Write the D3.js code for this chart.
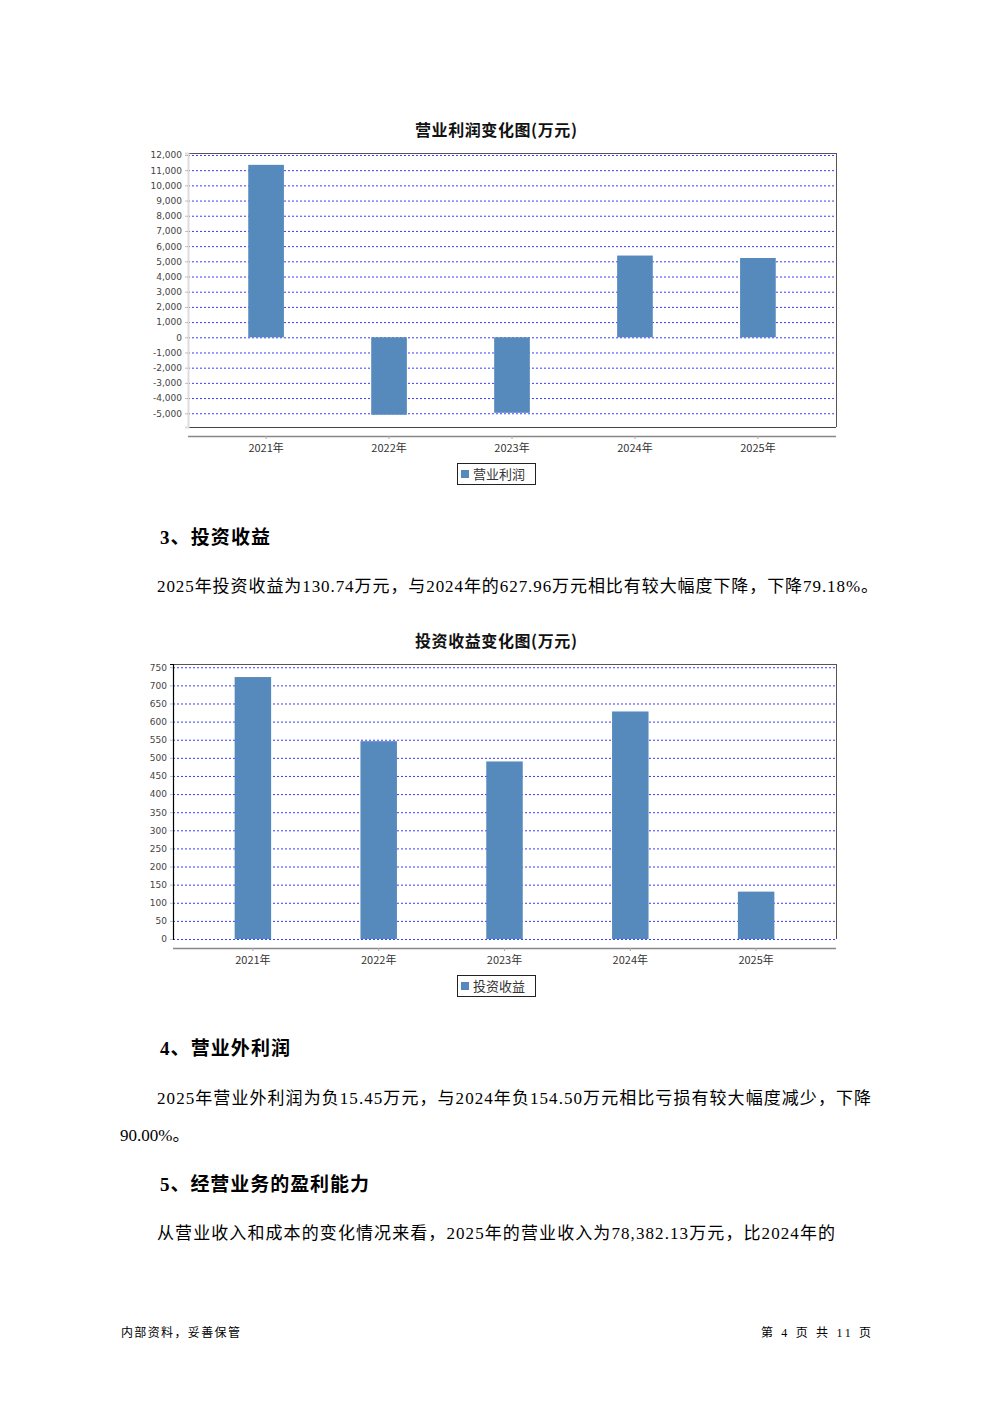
<!DOCTYPE html>
<html><head><meta charset="utf-8">
<script src="https://cdn.jsdelivr.net/npm/d3@7"></script>
<style>html,body{margin:0;padding:0;background:#fff;}svg{display:block;}</style>
</head><body>
<script>
const categories = ["2021年","2022年","2023年","2024年","2025年"];
const profitValues = [11350, -5100, -4970, 5380, 5220];
const investValues = [723, 546, 490, 627.96, 130.74];
const profitTicks = [12000,11000,10000,9000,8000,7000,6000,5000,4000,3000,2000,1000,0,-1000,-2000,-3000,-4000,-5000];
const investTicks = [750,700,650,600,550,500,450,400,350,300,250,200,150,100,50,0];
const chartTitles = ["营业利润变化图(万元)","投资收益变化图(万元)"];
const legendNames = ["营业利润","投资收益"];

const W = 992, H = 1403;
const svg = d3.select("body").append("svg").attr("width", W).attr("height", H);
const BAR = "#5689bc";
const CJK = "'Noto Sans CJK SC', sans-serif";
const BODY = "'Liberation Serif', 'Noto Sans CJK SC', serif";
const fmt = d3.formatLocale({decimal:".", thousands:",", grouping:[3], currency:["",""], minus:"-"}).format(",");

function chart(cfg){
  const g = svg.append("g");
  const {left,right,top,bottom,axisY,domain,ticks,values,title,titleY,legend,legendY,leftColor,showBottom} = cfg;
  const x = d3.scaleBand().domain(categories).range([left,right]).paddingInner(0.71).paddingOuter(0.49);
  const y = d3.scaleLinear().domain(domain).range([bottom,top]);
  // title
  g.append("text").attr("x",415).attr("y",titleY)
    .attr("font-family",CJK).attr("font-weight","bold").attr("font-size",16).attr("fill","#111")
    .attr("textLength",162).attr("lengthAdjust","spacing").text(title);
  // gridlines
  g.selectAll(".grid").data(ticks).join("line")
    .attr("x1",left).attr("x2",right).attr("y1",d=>y(d)+0.5).attr("y2",d=>y(d)+0.5)
    .attr("stroke","#3a3aff").attr("stroke-width",1).attr("stroke-dasharray","2,2");
  // bars
  g.selectAll(".bar").data(values).join("rect")
    .attr("x",(d,i)=>x(categories[i])).attr("width",x.bandwidth())
    .attr("y",d=>y(Math.max(0,d))).attr("height",d=>Math.abs(y(d)-y(0)))
    .attr("fill",BAR);
  // frame
  g.append("line").attr("x1",left).attr("x2",right).attr("y1",top+0.5).attr("y2",top+0.5).attr("stroke","#555");
  g.append("line").attr("x1",right+0.5).attr("x2",right+0.5).attr("y1",top).attr("y2",bottom).attr("stroke","#555");
  if(showBottom) g.append("line").attr("x1",left).attr("x2",right).attr("y1",bottom+0.5).attr("y2",bottom+0.5).attr("stroke","#444");
  // y axis
  const ya = d3.axisLeft(y).tickValues(ticks).tickFormat(fmt).tickSize(3).tickPadding(3);
  const ag = g.append("g").attr("transform",`translate(${left},0)`).call(ya);
  ag.select(".domain").attr("stroke",leftColor).attr("stroke-width",leftColor==="#000"?1.2:2);
  ag.selectAll(".tick line").attr("stroke","#bbb");
  ag.selectAll(".tick text").attr("font-family","'DejaVu Sans', sans-serif").attr("font-size",9).attr("fill","#444");
  // category axis
  const xa = d3.axisBottom(x).tickSize(3).tickPadding(5);
  const xg = g.append("g").attr("transform",`translate(0,${axisY})`).call(xa);
  xg.select(".domain").attr("d",`M${left},0.5H${right}`).attr("stroke","#888").attr("stroke-width",1.5);
  xg.selectAll(".tick line").attr("stroke","#aaa");
  xg.selectAll(".tick text").attr("font-family",CJK).attr("font-size",11).attr("fill","#333");
  // legend
  const lw = 78, lh = 21, lx = 457;
  const lg = g.append("g").attr("transform",`translate(${lx},${legendY})`);
  lg.append("rect").attr("x",0.5).attr("y",0.5).attr("width",lw).attr("height",lh).attr("fill","#fff").attr("stroke","#222");
  lg.append("rect").attr("x",4).attr("y",7).attr("width",8).attr("height",8).attr("fill",BAR);
  lg.append("text").attr("x",16).attr("y",15.5).attr("font-family",CJK).attr("font-size",13).attr("fill","#333").text(legend);
}

chart({left:188,right:836,top:153,bottom:427,axisY:436,domain:[-5905,12130],ticks:profitTicks,values:profitValues,
  title:chartTitles[0],titleY:136,legend:legendNames[0],legendY:463,leftColor:"#ddd",showBottom:true});
chart({left:173,right:836,top:664,bottom:939,axisY:948,domain:[0,759],ticks:investTicks,values:investValues,
  title:chartTitles[1],titleY:647,legend:legendNames[1],legendY:975,leftColor:"#000",showBottom:false});

// body text
function txt(s,xp,yp,opts){
  const t = svg.append("text").attr("x",xp).attr("y",yp)
    .attr("font-family",opts.family||BODY).attr("font-size",opts.size||17)
    .attr("font-weight",opts.bold?"bold":"normal").attr("fill",opts.fill||"#000").text(s);
  if(opts.len){t.attr("textLength",opts.len).attr("lengthAdjust","spacing");}
  return t;
}
txt("3、投资收益",160,544,{size:19,bold:true,len:110});
txt("2025年投资收益为130.74万元，与2024年的627.96万元相比有较大幅度下降，下降79.18%。",157,592,{len:721});
txt("4、营业外利润",160,1055,{size:19,bold:true,len:130});
txt("2025年营业外利润为负15.45万元，与2024年负154.50万元相比亏损有较大幅度减少，下降",157,1104,{len:714});
txt("90.00%。",120,1141,{});
txt("5、经营业务的盈利能力",160,1191,{size:19,bold:true,len:209});
txt("从营业收入和成本的变化情况来看，2025年的营业收入为78,382.13万元，比2024年的",157,1239,{len:678});
txt("内部资料，妥善保管",121,1337,{size:12,family:CJK,len:119});
txt("第 4 页  共 11 页",761,1337,{size:12,len:110});
</script>
</body></html>
